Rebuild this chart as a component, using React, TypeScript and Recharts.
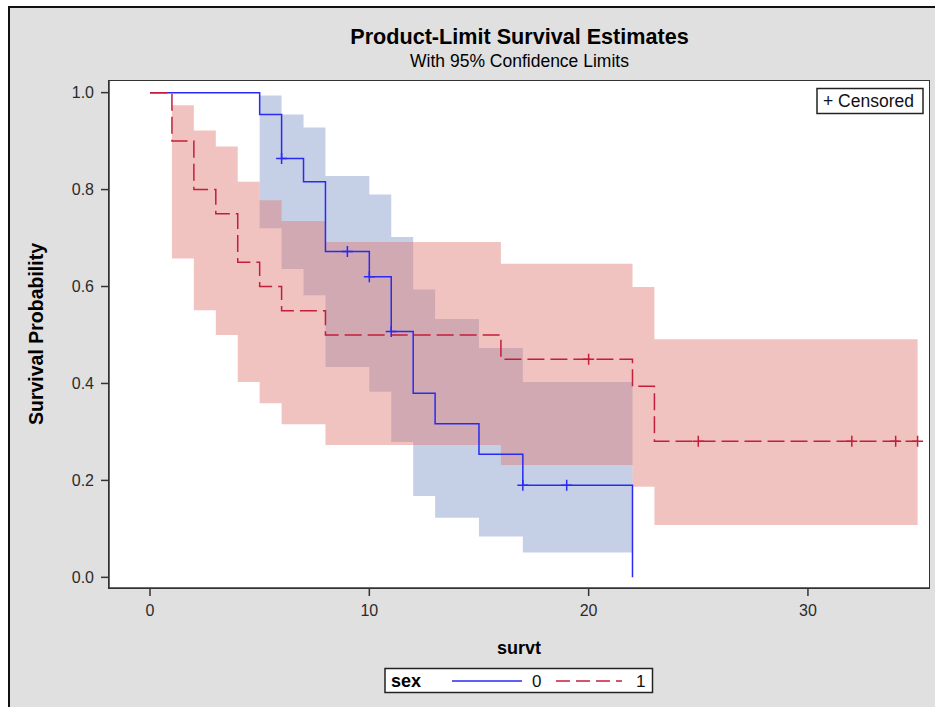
import { Area, ComposedChart, Line, Scatter, XAxis, YAxis } from "recharts";

// Kaplan-Meier estimates, sex = 0 (blue) and sex = 1 (red)
const blueTimes = [0, 5, 6, 7, 8, 10, 11, 12, 13, 15, 17, 22];
const blueSurv = [1, 0.955, 0.864, 0.816, 0.672, 0.62, 0.507, 0.38, 0.317, 0.254, 0.19, 0];
const redTimes = [0, 1, 2, 3, 4, 5, 6, 8, 16, 22, 23, 35];
const redSurv = [1, 0.9, 0.8, 0.75, 0.65, 0.6, 0.55, 0.5, 0.45, 0.394, 0.281, 0.281];

// 95% confidence limits
const blueBandTimes = [5, 6, 7, 8, 10, 11, 12, 13, 15, 17, 22];
const blueLower = [0.72, 0.636, 0.582, 0.434, 0.383, 0.279, 0.168, 0.123, 0.084, 0.051, 0.051];
const blueUpper = [0.994, 0.955, 0.928, 0.828, 0.79, 0.702, 0.594, 0.533, 0.473, 0.403, 0.403];
const redBandTimes = [1, 2, 3, 4, 5, 6, 8, 16, 22, 23, 35];
const redLower = [0.658, 0.551, 0.5, 0.403, 0.359, 0.316, 0.273, 0.232, 0.187, 0.108, 0.108];
const redUpper = [0.974, 0.922, 0.889, 0.816, 0.778, 0.735, 0.692, 0.647, 0.599, 0.491, 0.491];

// censored observations
const blueCensorTimes = [6, 9, 10, 11, 17, 19];
const blueCensorSurv = [0.864, 0.672, 0.62, 0.507, 0.19, 0.19];
const redCensorTimes = [20, 25, 32, 34, 35];
const redCensorSurv = [0.45, 0.281, 0.281, 0.281, 0.281];

const xTicks = [0, 10, 20, 30];
const yTicks = [0, 0.2, 0.4, 0.6, 0.8, 1.0];

const BLUE = "#2a2af2";
const RED = "#c41e3a";
const FONT = "'Liberation Sans', Arial, sans-serif";

const toSteps = (t: number[], s: number[]) => t.map((v, i) => ({ t: v, s: s[i] }));
const toBand = (t: number[], lo: number[], hi: number[]) =>
  t.map((v, i) => ({ t: v, band: [lo[i], hi[i]] }));

const plus = (color: string) => (props: any) => {
  const { cx, cy } = props;
  return (
    <path
      d={`M${cx - 5.5},${cy}H${cx + 5.5}M${cx},${cy - 5.5}V${cy + 5.5}`}
      stroke={color}
      strokeWidth={1.5}
      fill="none"
    />
  );
};

export default function App() {
  const tickStyle = { fill: "#2b2b2b", fontSize: 16, fontFamily: FONT };
  return (
    <div style={{ position: "relative", width: 935, height: 707, background: "#fff", fontFamily: FONT }}>
      <style>{"body{margin:0}"}</style>
      <div
        style={{
          position: "absolute",
          left: 8,
          top: 6,
          width: 927,
          height: 701,
          boxSizing: "border-box",
          background: "#e0e0e0",
          borderLeft: "2px solid #111",
          borderTop: "2px solid #111",
        }}
      />
      <div
        style={{
          position: "absolute",
          left: 108,
          top: 80,
          width: 822,
          height: 509,
          boxSizing: "border-box",
          background: "#fff",
          border: "1.5px solid #333",
        }}
      />
      <div style={{ position: "absolute", left: 0, top: 0 }}>
        <ComposedChart width={935} height={707} margin={{ top: 81, right: 6, bottom: 79, left: 49 }}>
          <XAxis
            dataKey="t"
            type="number"
            domain={[-1.87, 35.52]}
            ticks={xTicks}
            allowDataOverflow
            height={40}
            tickSize={8}
            tickMargin={9}
            stroke="#333"
            strokeWidth={1.5}
            tick={tickStyle}
          />
          <YAxis
            type="number"
            domain={[-0.022, 1.024]}
            ticks={yTicks}
            allowDataOverflow
            width={60}
            tickSize={8}
            tickMargin={7}
            stroke="#333"
            strokeWidth={1.5}
            tick={tickStyle}
            tickFormatter={(v: number) => v.toFixed(1)}
          />
          <Area
            data={toBand(blueBandTimes, blueLower, blueUpper)}
            dataKey="band"
            type="stepAfter"
            stroke="none"
            fill="#7e96c7"
            fillOpacity={0.45}
            isAnimationActive={false}
            activeDot={false}
          />
          <Area
            data={toBand(redBandTimes, redLower, redUpper)}
            dataKey="band"
            type="stepAfter"
            stroke="none"
            fill="#de7a73"
            fillOpacity={0.45}
            isAnimationActive={false}
            activeDot={false}
          />
          <Line
            data={toSteps(blueTimes, blueSurv)}
            dataKey="s"
            type="stepAfter"
            stroke={BLUE}
            strokeWidth={1.5}
            dot={false}
            activeDot={false}
            isAnimationActive={false}
          />
          <Line
            data={toSteps(redTimes, redSurv)}
            dataKey="s"
            type="stepAfter"
            stroke={RED}
            strokeWidth={1.5}
            strokeDasharray="17 6"
            dot={false}
            activeDot={false}
            isAnimationActive={false}
          />
          <Scatter
            data={toSteps(blueCensorTimes, blueCensorSurv)}
            dataKey="s"
            shape={plus(BLUE)}
            isAnimationActive={false}
          />
          <Scatter
            data={toSteps(redCensorTimes, redCensorSurv)}
            dataKey="s"
            shape={plus(RED)}
            isAnimationActive={false}
          />
        </ComposedChart>
      </div>
      <svg
        width={935}
        height={707}
        style={{ position: "absolute", left: 0, top: 0, pointerEvents: "none" }}
        fontFamily={FONT}
      >
        <text x={519.5} y={44} textAnchor="middle" fontSize={21.6} fontWeight="bold" fill="#000">
          Product-Limit Survival Estimates
        </text>
        <text x={519.5} y={67} textAnchor="middle" fontSize={17.5} fill="#000">
          With 95% Confidence Limits
        </text>
        <text
          transform="translate(43,334) rotate(-90)"
          textAnchor="middle"
          fontSize={19.5}
          fontWeight="bold"
          fill="#000"
        >
          Survival Probability
        </text>
        <text x={519} y={654} textAnchor="middle" fontSize={18} fontWeight="bold" fill="#000">
          survt
        </text>

        <rect x={817} y={88.5} width={106} height={25} fill="#fff" stroke="#222" strokeWidth={1.5} />
        <text x={823} y={107} fontSize={17.5} fill="#111">
          + Censored
        </text>

        <rect x={385} y={668.5} width={267.5} height={24} fill="#fff" stroke="#222" strokeWidth={1.5} />
        <text x={391} y={687} fontSize={18} fontWeight="bold" fill="#000">
          sex
        </text>
        <line x1={452} y1={681} x2={522} y2={681} stroke={BLUE} strokeWidth={1.5} />
        <text x={532} y={687} fontSize={17} fill="#111">
          0
        </text>
        <line x1={556} y1={681} x2={622} y2={681} stroke={RED} strokeWidth={1.5} strokeDasharray="14 6" />
        <text x={636} y={687} fontSize={17} fill="#111">
          1
        </text>
      </svg>
    </div>
  );
}
